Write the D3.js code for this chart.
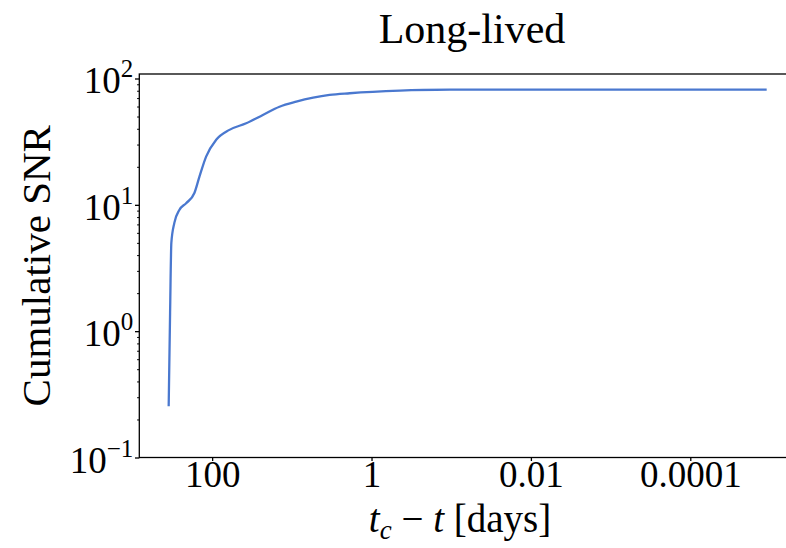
<!DOCTYPE html>
<html>
<head>
<meta charset="utf-8">
<script src="https://cdn.jsdelivr.net/npm/d3@7"></script>
<style>
  body { margin: 0; background: #fff; }
  text { font-family: "Liberation Serif", "DejaVu Serif", serif; fill: #000; }
</style>
</head>
<body>
<div id="chart"></div>
<script>
// time to coalescence (days) and cumulative SNR
const tDays = [351, 337, 325, 298, 258, 212, 167, 144, 119, 89, 60.7, 37.4, 23.1, 14.3, 8.8, 5.4, 3.36, 1.88, 0.44, 0.104, 0.03, 1.1e-5];
const snr = [0.255, 1.4, 5.0, 7.2, 9.1, 10.3, 12.4, 16.8, 24.1, 32.7, 39.2, 44.2, 51.4, 59.8, 65.6, 70.5, 74.1, 76.4, 80.1, 81.5, 81.7, 81.7];

const xTicks = [100, 1, 0.01, 0.0001];
const xTickLabels = ["100", "1", "0.01", "0.0001"];
const yTicks = [0.1, 1, 10, 100];
const yExponents = ["\u22121", "0", "1", "2"];

const width = 786;
const height = 548;
const plot = { left: 139.3, right: 795.8, top: 74, bottom: 457.5 };

const svg = d3
  .select("#chart")
  .append("svg")
  .attr("width", width)
  .attr("height", height);

// reversed log x axis, log y axis
const xScale = d3
  .scaleLog()
  .domain([Math.pow(10, 2.914), Math.pow(10, -5.324)])
  .range([plot.left, plot.right]);

const yScale = d3
  .scaleLog()
  .domain([0.1, Math.pow(10, 2.0356)])
  .range([plot.bottom, plot.top]);

// minor y ticks
const yMinor = [];
[0.1, 1, 10].forEach((d) => {
  for (let k = 2; k <= 9; k++) yMinor.push(d * k);
});

const minorAxis = svg
  .append("g")
  .attr("transform", `translate(${plot.left},0)`)
  .call(d3.axisLeft(yScale).tickValues(yMinor).tickSize(2.2).tickFormat(""));
minorAxis.select(".domain").remove();
minorAxis.selectAll("line").attr("stroke-width", 1);

// major y ticks
const yAxis = svg
  .append("g")
  .attr("transform", `translate(${plot.left},0)`)
  .call(d3.axisLeft(yScale).tickValues(yTicks).tickSize(4.3).tickPadding(5).tickFormat(""));
yAxis.select(".domain").remove();
yAxis.selectAll("line").attr("stroke-width", 1.3);
yAxis
  .selectAll(".tick")
  .append("text")
  .attr("x", -6)
  .attr("y", 14.5)
  .attr("text-anchor", "end")
  .style("font-size", "37px")
  .each(function (d, i) {
    const t = d3.select(this);
    t.append("tspan").text("10");
    t.append("tspan")
      .attr("dy", -16)
      .style("font-size", "25px")
      .text(yExponents[i]);
  });

// x axis
const xAxis = svg
  .append("g")
  .attr("transform", `translate(0,${plot.bottom})`)
  .call(
    d3
      .axisBottom(xScale)
      .tickValues(xTicks)
      .tickSize(3.5)
      .tickPadding(6)
      .tickFormat((d, i) => xTickLabels[i])
  );
xAxis.select(".domain").remove();
xAxis.selectAll("line").attr("stroke-width", 1.3);
xAxis
  .selectAll("text")
  .attr("fill", "#000")
  .attr("dy", null)
  .attr("y", 29)
  .style("font-size", "37px")
  .style("font-family", '"Liberation Serif", serif');

// frame (right side is cut off by the picture edge)
svg
  .append("rect")
  .attr("x", plot.left)
  .attr("y", plot.top)
  .attr("width", plot.right - plot.left)
  .attr("height", plot.bottom - plot.top)
  .attr("fill", "none")
  .attr("stroke", "#000")
  .attr("stroke-width", 1.3);

// the curve
const points = tDays.map((t, i) => [t, snr[i]]);
const line = d3
  .line()
  .x((d) => xScale(d[0]))
  .y((d) => yScale(d[1]))
  .curve(d3.curveMonotoneX);

svg
  .append("path")
  .datum(points)
  .attr("d", line)
  .attr("fill", "none")
  .attr("stroke", "#4a78cf")
  .attr("stroke-width", 2.3);

// title
svg
  .append("text")
  .attr("x", 472)
  .attr("y", 43)
  .attr("text-anchor", "middle")
  .style("font-size", "42px")
  .text("Long-lived");

// x label
const xl = svg
  .append("text")
  .attr("x", 460)
  .attr("y", 532)
  .attr("text-anchor", "middle")
  .style("font-size", "39px");
xl.append("tspan").style("font-style", "italic").text("t");
xl.append("tspan").attr("dy", 7).style("font-style", "italic").style("font-size", "27px").text("c");
xl.append("tspan").attr("dy", -7).text(" \u2212 ");
xl.append("tspan").style("font-style", "italic").text("t");
xl.append("tspan").text(" [days]");

// y label
svg
  .append("text")
  .attr("transform", `translate(50,${(plot.top + plot.bottom) / 2}) rotate(-90)`)
  .attr("text-anchor", "middle")
  .style("font-size", "41px")
  .text("Cumulative SNR");
</script>
</body>
</html>
